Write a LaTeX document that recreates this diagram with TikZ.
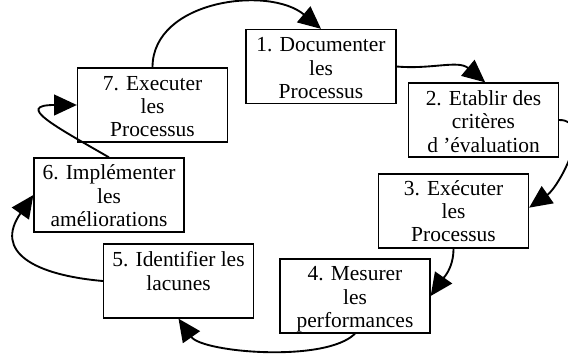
\documentclass[tikz,border=0pt]{standalone}
\usepackage{fontspec}
\setmainfont{Liberation Serif}
\usetikzlibrary{arrows.meta}

\begin{document}
\begin{tikzpicture}[x=0.03cm,y=0.03cm,
  etape/.style={draw,line width=1.1pt,minimum width=4.5cm,minimum height=2.22cm,inner sep=0pt},
  texte/.style={align=center,inner sep=0pt,anchor=north,font=\fontsize{18.3pt}{19.9pt}\selectfont},
  fleche/.style={line width=1.6pt,-{Triangle[length=0.68cm,width=0.62cm]}}]
  \useasboundingbox (0,0) rectangle (568,354);

  \node [etape] (b1) at (321,287.5) {};
  \node [etape] (b2) at (483.5,234) {};
  \node [etape] (b3) at (453.5,143) {};
  \node [etape] (b4) at (355,58) {};
  \node [etape] (b5) at (178.5,73) {};
  \node [etape] (b6) at (109,159) {};
  \node [etape] (b7) at (152.5,249) {};

  \node [texte] (t1) at ([yshift=-0.26cm]b1.north) {1. Documenter\\les\\Processus};
  \node [texte] (t2) at ([yshift=-0.24cm]b2.north) {2. Etablir des\\critères\\d ’évaluation};
  \node [texte] (t3) at ([yshift=-0.2cm]b3.north) {3. Exécuter\\les\\Processus};
  \node [texte] (t4) at ([yshift=-0.24cm]b4.north) {4. Mesurer\\les\\performances};
  \node [texte] (t5) at ([yshift=-0.24cm]b5.north) {5. Identifier les\\lacunes};
  \node [texte] (t6) at ([yshift=-0.22cm]b6.north) {6. Implémenter\\les\\améliorations};
  \node [texte] (t7) at ([yshift=-0.26cm]b7.north) {7. Executer\\les\\Processus};

  \draw [fleche] (b7.north) to[out=90,in=140] ([xshift=0cm]b1.north);
  \draw [fleche] (b1.east) to[out=-5,in=140] ([xshift=0.05cm]b2.north);
  \draw [fleche] (b2.east) to[out=0,in=35] ([yshift=0.1cm]b3.east);
  \draw [fleche] (b3.south) to[out=-90,in=55] (b4.east);
  \draw [fleche] (b4.south) to[out=-135,in=-55,looseness=0.6] (b5.south);
  \draw [fleche] (b5.west) to[out=175,in=-125,looseness=1.6] (b6.west);
  \draw [fleche] (b6.north) to[out=150,in=180,looseness=2.6] (b7.west);

\end{tikzpicture}
\end{document}
